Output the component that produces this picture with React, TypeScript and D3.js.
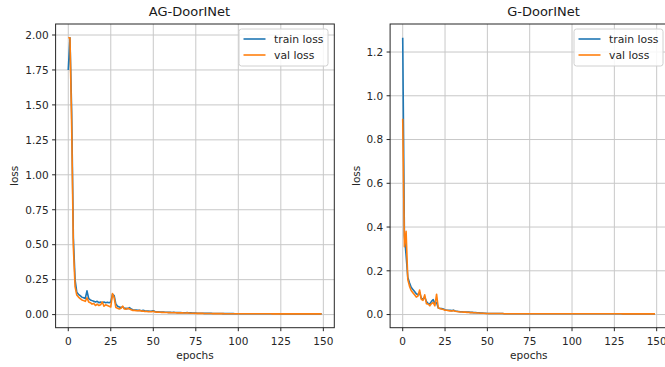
import React from "react";
import * as d3 from "d3";

// ---------- data ----------
const epochs = d3.range(0, 150);

const agTrain = [
  1.75, 1.98, 1.45, 0.55, 0.25, 0.16, 0.145, 0.135, 0.125, 0.12,
  0.115, 0.17, 0.115, 0.105, 0.1, 0.095, 0.09, 0.095, 0.085, 0.09,
  0.085, 0.09, 0.085, 0.088, 0.085, 0.09, 0.145, 0.135, 0.075, 0.06,
  0.055, 0.05, 0.055, 0.045, 0.045, 0.042, 0.05, 0.04, 0.035, 0.033,
  0.032, 0.03, 0.03, 0.028, 0.03, 0.027, 0.025, 0.026, 0.024, 0.025,
  0.028, 0.022, 0.02, 0.02, 0.019, 0.018, 0.018, 0.017, 0.017, 0.016,
  0.016, 0.015, 0.016, 0.015, 0.014, 0.014, 0.015, 0.013, 0.013, 0.013,
  0.014, 0.012, 0.012, 0.011, 0.011, 0.011, 0.01, 0.01, 0.01, 0.01,
  0.009, 0.009, 0.009, 0.009, 0.009, 0.008, 0.008, 0.008, 0.008, 0.008,
  0.008, 0.007, 0.007, 0.007, 0.007, 0.007, 0.007, 0.007, 0.006, 0.006,
  0.006, 0.006, 0.006, 0.006, 0.006, 0.006, 0.006, 0.006, 0.006, 0.006,
  0.006, 0.006, 0.006, 0.006, 0.006, 0.006, 0.006, 0.006, 0.006, 0.006,
  0.006, 0.006, 0.006, 0.006, 0.006, 0.005, 0.005, 0.005, 0.005, 0.005,
  0.005, 0.005, 0.005, 0.005, 0.005, 0.005, 0.005, 0.005, 0.005, 0.005,
  0.005, 0.005, 0.005, 0.005, 0.005, 0.005, 0.005, 0.005, 0.005, 0.005,
];

const agVal = [
  1.98, 1.98, 1.35, 0.48, 0.2, 0.14, 0.125, 0.115, 0.105, 0.1,
  0.095, 0.12, 0.09, 0.085, 0.075, 0.08, 0.065, 0.075, 0.065, 0.07,
  0.09, 0.06, 0.07, 0.065, 0.06, 0.055, 0.15, 0.12, 0.05, 0.045,
  0.04, 0.045, 0.06, 0.04, 0.038, 0.045, 0.04, 0.035, 0.03, 0.03,
  0.028, 0.027, 0.03, 0.025, 0.026, 0.022, 0.024, 0.02, 0.021, 0.02,
  0.024, 0.019, 0.018, 0.018, 0.017, 0.016, 0.016, 0.015, 0.015, 0.014,
  0.014, 0.013, 0.014, 0.013, 0.012, 0.012, 0.013, 0.012, 0.011, 0.011,
  0.012, 0.011, 0.01, 0.01, 0.01, 0.009, 0.009, 0.009, 0.009, 0.009,
  0.008, 0.008, 0.008, 0.008, 0.008, 0.007, 0.007, 0.007, 0.007, 0.007,
  0.007, 0.007, 0.006, 0.006, 0.006, 0.006, 0.006, 0.006, 0.006, 0.006,
  0.006, 0.006, 0.006, 0.006, 0.006, 0.006, 0.006, 0.006, 0.006, 0.006,
  0.006, 0.006, 0.006, 0.006, 0.006, 0.006, 0.006, 0.006, 0.006, 0.006,
  0.005, 0.005, 0.005, 0.005, 0.005, 0.005, 0.005, 0.005, 0.005, 0.005,
  0.005, 0.005, 0.005, 0.005, 0.005, 0.005, 0.005, 0.005, 0.005, 0.005,
  0.005, 0.005, 0.005, 0.005, 0.005, 0.005, 0.005, 0.005, 0.005, 0.005,
];

const gTrain = [
  1.265, 0.36, 0.27, 0.17, 0.145, 0.125, 0.115, 0.105, 0.095, 0.09,
  0.1, 0.075, 0.07, 0.08, 0.06, 0.05, 0.048, 0.06, 0.068, 0.05,
  0.055, 0.03, 0.028, 0.027, 0.025, 0.022, 0.02, 0.02, 0.019, 0.018,
  0.02, 0.016, 0.015, 0.014, 0.013, 0.013, 0.012, 0.012, 0.011, 0.011,
  0.01, 0.01, 0.009, 0.009, 0.008, 0.008, 0.007, 0.007, 0.006, 0.006,
  0.005, 0.005, 0.005, 0.005, 0.005, 0.005, 0.005, 0.005, 0.005, 0.005,
  0.004, 0.004, 0.004, 0.004, 0.004, 0.004, 0.004, 0.004, 0.004, 0.004,
  0.004, 0.004, 0.004, 0.004, 0.004, 0.004, 0.004, 0.004, 0.004, 0.004,
  0.004, 0.004, 0.004, 0.004, 0.004, 0.004, 0.004, 0.004, 0.004, 0.004,
  0.004, 0.004, 0.004, 0.004, 0.004, 0.004, 0.004, 0.004, 0.004, 0.004,
  0.004, 0.004, 0.004, 0.004, 0.004, 0.004, 0.004, 0.004, 0.004, 0.004,
  0.004, 0.004, 0.004, 0.004, 0.004, 0.004, 0.004, 0.004, 0.004, 0.004,
  0.004, 0.004, 0.004, 0.004, 0.004, 0.004, 0.004, 0.004, 0.004, 0.004,
  0.003, 0.003, 0.003, 0.003, 0.003, 0.003, 0.003, 0.003, 0.003, 0.003,
  0.003, 0.003, 0.003, 0.003, 0.003, 0.003, 0.003, 0.003, 0.003, 0.003,
];

const gVal = [
  0.895, 0.31, 0.38, 0.16, 0.13, 0.11, 0.1, 0.09, 0.08, 0.085,
  0.112, 0.07, 0.065, 0.09, 0.05, 0.048, 0.04, 0.05, 0.055, 0.04,
  0.093, 0.03, 0.028, 0.025, 0.023, 0.02, 0.02, 0.018, 0.017, 0.016,
  0.018, 0.015, 0.014, 0.013, 0.012, 0.012, 0.011, 0.011, 0.01, 0.01,
  0.009, 0.009, 0.008, 0.008, 0.007, 0.007, 0.006, 0.006, 0.006, 0.005,
  0.005, 0.005, 0.005, 0.005, 0.005, 0.005, 0.005, 0.005, 0.005, 0.005,
  0.004, 0.004, 0.004, 0.004, 0.004, 0.004, 0.004, 0.004, 0.004, 0.004,
  0.004, 0.004, 0.004, 0.004, 0.004, 0.004, 0.004, 0.004, 0.004, 0.004,
  0.004, 0.004, 0.004, 0.004, 0.004, 0.004, 0.004, 0.004, 0.004, 0.004,
  0.004, 0.004, 0.004, 0.004, 0.004, 0.004, 0.004, 0.004, 0.004, 0.004,
  0.004, 0.004, 0.004, 0.004, 0.004, 0.004, 0.004, 0.004, 0.004, 0.004,
  0.004, 0.004, 0.004, 0.004, 0.004, 0.004, 0.004, 0.004, 0.004, 0.004,
  0.004, 0.004, 0.004, 0.004, 0.004, 0.004, 0.004, 0.004, 0.004, 0.004,
  0.003, 0.003, 0.003, 0.003, 0.003, 0.003, 0.003, 0.003, 0.003, 0.003,
  0.003, 0.003, 0.003, 0.003, 0.003, 0.003, 0.003, 0.003, 0.003, 0.003,
];

const xTicks = [0, 25, 50, 75, 100, 125, 150];
const agYTicks = [0, 0.25, 0.5, 0.75, 1.0, 1.25, 1.5, 1.75, 2.0];
const gYTicks = [0, 0.2, 0.4, 0.6, 0.8, 1.0, 1.2];
const seriesNames = ["train loss", "val loss"];
const colors = ["#1f77b4", "#ff7f0e"];

const FONT = "DejaVu Sans, sans-serif";

type PanelProps = {
  title: string;
  titleX: number;
  left: number;
  right: number;
  top: number;
  bottom: number;
  train: number[];
  val: number[];
  yTicks: number[];
  yFmt: (v: number) => string;
  ylabelX: number;
  legendRight: number;
};

function Panel(p: PanelProps) {
  const n = epochs.length;
  const xm = (n - 1) * 0.05;
  const x = d3.scaleLinear().domain([-xm, n - 1 + xm]).range([p.left, p.right]);
  const all = p.train.concat(p.val);
  const lo = d3.min(all) as number;
  const hi = d3.max(all) as number;
  const ym = (hi - lo) * 0.05;
  const y = d3.scaleLinear().domain([lo - ym, hi + ym]).range([p.bottom, p.top]);
  const line = d3
    .line<number>()
    .x((_, i) => x(epochs[i]))
    .y((d) => y(d));
  const clipId = "clip-" + p.title;
  const lw = 89;
  const lx = p.legendRight - lw;
  const ly = 29;
  return (
    <g>
      <defs>
        <clipPath id={clipId}>
          <rect x={p.left} y={p.top} width={p.right - p.left} height={p.bottom - p.top} />
        </clipPath>
      </defs>
      {/* grid */}
      {xTicks.map((t) => (
        <line key={"gx" + t} x1={x(t)} x2={x(t)} y1={p.top} y2={p.bottom} stroke="#c8c8c8" strokeWidth={1} />
      ))}
      {p.yTicks.map((t) => (
        <line key={"gy" + t} x1={p.left} x2={p.right} y1={y(t)} y2={y(t)} stroke="#c8c8c8" strokeWidth={1} />
      ))}
      {/* lines */}
      <g clipPath={`url(#${clipId})`}>
        <path d={line(p.train) || ""} fill="none" stroke={colors[0]} strokeWidth={1.6} strokeLinejoin="round" />
        <path d={line(p.val) || ""} fill="none" stroke={colors[1]} strokeWidth={1.6} strokeLinejoin="round" />
      </g>
      {/* frame */}
      <rect x={p.left} y={p.top} width={p.right - p.left} height={p.bottom - p.top} fill="none" stroke="#262626" strokeWidth={1} />
      {/* x ticks */}
      {xTicks.map((t) => (
        <g key={"xt" + t}>
          <line x1={x(t)} x2={x(t)} y1={p.bottom} y2={p.bottom + 3.5} stroke="#262626" />
          <text x={x(t)} y={p.bottom + 17} textAnchor="middle" fontSize={10.5} fontFamily={FONT} fill="#262626">
            {t}
          </text>
        </g>
      ))}
      {/* y ticks */}
      {p.yTicks.map((t) => (
        <g key={"yt" + t}>
          <line x1={p.left - 3.5} x2={p.left} y1={y(t)} y2={y(t)} stroke="#262626" />
          <text x={p.left - 7} y={y(t) + 3.8} textAnchor="end" fontSize={10.5} fontFamily={FONT} fill="#262626">
            {p.yFmt(t)}
          </text>
        </g>
      ))}
      {/* labels */}
      <text x={(p.left + p.right) / 2} y={359} textAnchor="middle" fontSize={10.5} fontFamily={FONT} fill="#262626">
        epochs
      </text>
      <text
        transform={`translate(${p.ylabelX},${(p.top + p.bottom) / 2}) rotate(-90)`}
        textAnchor="middle"
        fontSize={10.5}
        fontFamily={FONT}
        fill="#262626"
      >
        loss
      </text>
      <text x={p.titleX} y={16} textAnchor="middle" fontSize={13} fontFamily={FONT} fill="#1a1a1a">
        {p.title}
      </text>
      {/* legend */}
      <rect x={lx} y={ly} width={lw} height={37} rx={2.5} fill="white" fillOpacity={0.85} stroke="#d0d0d0" />
      {seriesNames.map((name, i) => (
        <g key={name}>
          <line x1={lx + 4.5} x2={lx + 26.5} y1={ly + 10 + i * 16} y2={ly + 10 + i * 16} stroke={colors[i]} strokeWidth={1.6} />
          <text x={lx + 35} y={ly + 14 + i * 16} fontSize={10.8} fontFamily={FONT} fill="#262626">
            {name}
          </text>
        </g>
      ))}
    </g>
  );
}

export default function App() {
  return (
    <svg width={665} height={367} style={{ position: "absolute", left: 0, top: 0, background: "white" }}>
      <rect x={0} y={0} width={665} height={367} fill="white" />
      <Panel
        title="AG-DoorINet"
        titleX={189.5}
        left={55.6}
        right={334.3}
        top={24}
        bottom={327.7}
        train={agTrain}
        val={agVal}
        yTicks={agYTicks}
        yFmt={(v) => v.toFixed(2)}
        ylabelX={17.5}
        legendRight={328}
      />
      <Panel
        title="G-DoorINet"
        titleX={543.5}
        left={390.1}
        right={667.6}
        top={24}
        bottom={327.7}
        train={gTrain}
        val={gVal}
        yTicks={gYTicks}
        yFmt={(v) => v.toFixed(1)}
        ylabelX={359.5}
        legendRight={663}
      />
    </svg>
  );
}
